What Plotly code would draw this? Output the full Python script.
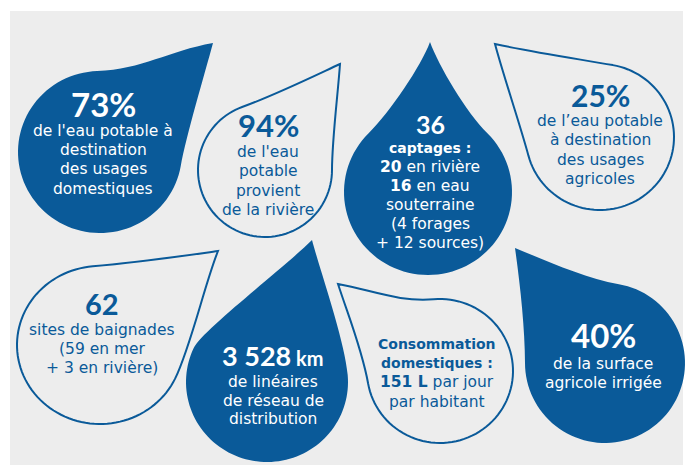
import math
import plotly.graph_objects as go

# ---------------- data ----------------
key_figures = ["73%", "94%", "36", "25%", "62", "3 528", "", "40%"]
key_units = ["", "", "", "", "", "km", "", ""]
descriptions = [
    ["de l'eau potable à", "destination", "des usages", "domestiques"],
    ["de l'eau", "potable", "provient", "de la rivière"],
    ["<b>captages :</b>", "<b>20</b> en rivière", "<b>16</b> en eau", "souterraine", "(4 forages", "+ 12 sources)"],
    ["de l’eau potable", "à destination", "des usages", "agricoles"],
    ["sites de baignades", "(59 en mer", "+ 3 en rivière)"],
    ["de linéaires", "de réseau de", "distribution"],
    ["<b>Consommation</b>", "<b>domestiques :</b>", "<b>151 L</b> par jour", "par habitant"],
    ["de la surface", "agricole irrigée"],
]
filled = [True, False, True, False, False, True, False, True]

# ---------------- layout / styling ----------------
W, H = 685, 465
BLUE = "#0a5a99"
PANEL = "#ededed"

# drop geometry: cx, cy, rx, ry, tipx, tipy, a1, a2, e1, e2, h1, k1, h2, k2
drops = [
    (100, 152, 82, 81, 213, 43, 10, 268, 105, 170, 30, 30, 45, 45),
    (265, 170, 67, 67, 340, 64, 0, 250, 94, 155, 30, 30, 35, 35),
    (428, 192, 84, 83, 430, 42, -45, 225, 70, 110, 25, 30, 25, 30),
    (600, 137, 74, 73, 495, 44, -80, 165, 12, 75, 40, 40, 35, 35),
    (100, 345, 83, 79, 218, 251, 25, 265, 112, 172, 35, 35, 45, 45),
    (267, 382, 81, 80, 312, 240, -5, 205, 75, 135, 35, 35, 40, 20),
    (440, 371, 73, 72, 338, 284, -95, 170, 10, 72, 35, 35, 35, 35),
    (605, 363, 80, 80, 515, 248, -80, 180, 22, 82, 35, 35, 35, 35),
]
# text placement: center x, big-number y, first line y, line spacing, big font size
text_pos = [
    (103, 104, 131, 19.2, 33),
    (268, 125, 152, 19.4, 31),
    (430, 124, 148, 19.0, 25),
    (600, 95, 121, 19.4, 30),
    (102, 303, 330, 19.0, 29),
    (273, 355, 382, 18.5, 27),
    (437, None, 344, 19.2, 0),
    (603, 335, 364, 18.5, 33),
]


def drop_path(cx, cy, rx, ry, tx, ty, a1, a2, e1, e2, h1, k1, h2, k2):
    def pt(a):
        r = math.radians(a)
        return cx + rx * math.cos(r), cy + ry * math.sin(r)

    def tan(a):
        r = math.radians(a)
        dx, dy = -rx * math.sin(r), ry * math.cos(r)
        n = math.hypot(dx, dy)
        return dx / n, dy / n

    f = lambda p: f"{p[0]:.2f},{p[1]:.2f}"
    T = (tx, ty)
    P1 = pt(a1)
    t1 = tan(a1)
    c1a = (tx + h1 * math.cos(math.radians(e1)), ty + h1 * math.sin(math.radians(e1)))
    c1b = (P1[0] - k1 * t1[0], P1[1] - k1 * t1[1])
    s = f"M {f(T)} C {f(c1a)} {f(c1b)} {f(P1)}"
    n = 80
    for i in range(1, n + 1):
        a = a1 + (a2 - a1) * i / n
        s += f" L {f(pt(a))}"
    P2 = pt(a2)
    t2 = tan(a2)
    c2a = (P2[0] + k2 * t2[0], P2[1] + k2 * t2[1])
    c2b = (tx + h2 * math.cos(math.radians(e2)), ty + h2 * math.sin(math.radians(e2)))
    s += f" C {f(c2a)} {f(c2b)} {f(T)} Z"
    return s


fig = go.Figure()
fig.add_trace(go.Scatter(x=[0, W], y=[0, H], mode="markers", marker=dict(opacity=0), hoverinfo="skip", showlegend=False))

shapes = [dict(type="rect", xref="x", yref="y", x0=10, y0=11, x1=683, y1=H + 2,
               fillcolor=PANEL, line=dict(width=0), layer="below")]
for d, fl in zip(drops, filled):
    p = drop_path(*d)
    if fl:
        shapes.append(dict(type="path", path=p, xref="x", yref="y", fillcolor=BLUE,
                           line=dict(width=0), layer="above"))
    else:
        shapes.append(dict(type="path", path=p, xref="x", yref="y", fillcolor="rgba(0,0,0,0)",
                           line=dict(width=2, color=BLUE), layer="above"))

annotations = []
BODY_FONT = "DejaVu Sans"
for i in range(len(descriptions)):
    x, yb, y0, sp, bs = text_pos[i]
    col = "white" if filled[i] else BLUE
    if key_figures[i]:
        txt = f"<b>{key_figures[i]}</b>"
        if key_units[i]:
            txt += f"<b><span style='font-size:20px'> {key_units[i]}</span></b>"
        annotations.append(dict(x=x, y=yb, xref="x", yref="y", text=txt, showarrow=False,
                                xanchor="center", yanchor="middle",
                                font=dict(family="Lato", size=bs, color=col)))
    for j, line in enumerate(descriptions[i]):
        size = 14 if line.startswith("<b>") and ("Consommation" in line or "domestiques" in line or "captages" in line) else 15.5
        annotations.append(dict(x=x, y=y0 + j * sp, xref="x", yref="y", text=line, showarrow=False,
                                xanchor="center", yanchor="middle",
                                font=dict(family=BODY_FONT, size=size, color=col)))

fig.update_layout(
    width=W, height=H, margin=dict(l=0, r=0, t=0, b=0),
    paper_bgcolor="white", plot_bgcolor="white",
    xaxis=dict(range=[0, W], visible=False, fixedrange=True),
    yaxis=dict(range=[H, 0], visible=False, fixedrange=True),
    shapes=shapes, annotations=annotations, showlegend=False,
)
fig.write_html("out.html")
